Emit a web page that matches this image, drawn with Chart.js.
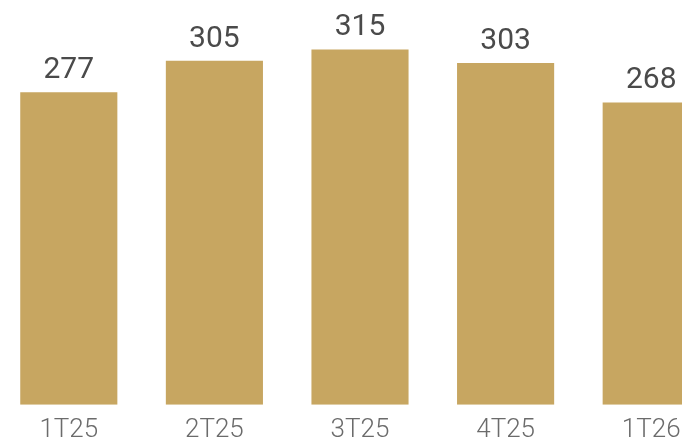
<!DOCTYPE html>
<html>
<head>
<meta charset="utf-8">
<script src="https://cdn.jsdelivr.net/npm/chart.js@4/dist/chart.umd.min.js"></script>
<style>
    html, body { margin: 0; padding: 0; background: #fff; overflow: hidden; width: 682px; height: 442px; }
    #wrap { position: absolute; left: -4px; top: 0; width: 728px; height: 456px; }
</style>
</head>
<body>
<div id="wrap"><canvas id="chart"></canvas></div>
<script>
// Trimestres e valores
const categories = ['1T25', '2T25', '3T25', '4T25', '1T26'];
const values = [277, 305, 315, 303, 268];

// Rótulos de valor acima das barras
const valueLabels = {
    id: 'valueLabels',
    afterDatasetsDraw(chart) {
        const ctx = chart.ctx;
        const meta = chart.getDatasetMeta(0);
        ctx.save();
        ctx.font = '400 30px Roboto';
        ctx.fillStyle = '#4a4a4a';
        ctx.textAlign = 'center';
        ctx.textBaseline = 'alphabetic';
        meta.data.forEach((bar, i) => {
            ctx.fillText(String(values[i]), bar.x, bar.y - 14);
        });
        ctx.restore();
    }
};

new Chart(document.getElementById('chart').getContext('2d'), {
    type: 'bar',
    data: {
        labels: categories,
        datasets: [{
            data: values,
            backgroundColor: '#C7A661',
            borderWidth: 0,
            categoryPercentage: 1,
            barPercentage: 0.667
        }]
    },
    options: {
        responsive: true,
        maintainAspectRatio: false,
        animation: false,
        layout: { padding: { top: 10, left: 0, right: 0, bottom: 0 } },
        plugins: {
            legend: { display: false },
            tooltip: { enabled: false }
        },
        scales: {
            x: {
                grid: { display: false, drawTicks: false },
                border: { display: false },
                ticks: {
                    padding: 10,
                    color: '#6b6b6b',
                    font: { family: 'Roboto', size: 26, weight: '300' }
                }
            },
            y: {
                display: false,
                min: 0,
                max: 350
            }
        }
    },
    plugins: [valueLabels]
});
</script>
</body>
</html>
